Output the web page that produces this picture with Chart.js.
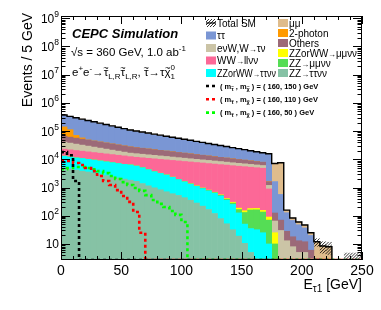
<!DOCTYPE html>
<html><head><meta charset="utf-8">
<script src="https://cdn.jsdelivr.net/npm/chart.js@4.4.1/dist/chart.umd.min.js"></script>
<style>html,body{margin:0;padding:0;background:#fff}canvas{display:block}</style>
</head><body>
<canvas id="c" width="381" height="310"></canvas>
<script>
// ---------------- data (events / 5 GeV), 50 bins from 0 to 250 GeV ----------------
const binLow = Array.from({length: 50}, (_, i) => 5 * i);          // bin lower edges
const binCenters = binLow.map(v => v + 2.5);
const xTickLabels = [0, 50, 100, 150, 200, 250];
const yTickExponents = [1, 2, 3, 4, 5, 6, 7, 8, 9];

// backgrounds, stacking order bottom -> top
const ZZ_tautaununu = [5000,4570,4170,3800,3550,3240,2880,2630,2400,2190,1995,1820,1660,1380,1150,977,832,708,603,525,437,355,282,219,166,120,79,52,32,19,10.5,5,0,0,0,0,0,0,0,0,0,0,0,0,0,0,0,0,0,0];
const ZZorWW_tautaununu = [7900,7450,7050,6900,6450,6100,5830,5500,5190,4890,4610,4490,4090,3630,3120,2650,2330,2050,1690,1380,1150,963,814,693,593,511,422,303,219,107,40,30,32,25,10,0,0,0,0,0,0,0,0,0,0,0,0,0,0,0];
const ZZ_mumununu = [30,30,30,30,30,30,30,30,30,30,30,30,30,30,30,30,30,30,30,30,30,30,30,30,30,30,30,30,30,40,80,125,130,110,60,10,0,0,0,0,0,0,0,0,0,0,0,0,0,0];
const ZZorWW_mumununu = [20,20,20,20,20,20,20,20,20,20,20,20,20,20,20,20,20,20,20,20,20,20,20,20,20,20,20,20,20,20,20,20,20,20,20,15,0,0,0,0,0,0,0,0,0,0,0,0,0,0];
const WW_lnulnu = [9980,9600,9240,8640,8320,8000,7680,7380,7090,6800,6530,6110,6000,6250,6520,6710,6740,6740,6800,6800,6760,6680,6560,6430,6270,6100,5950,5830,5640,5500,5330,5070,4850,4670,800,0,0,0,0,0,0,0,0,0,0,0,0,0,0,0];
const enuW = [17830,15870,14080,12470,11010,9690,8500,7430,6460,5590,4810,4120,4050,3830,3620,3420,3230,3050,2880,2720,2570,2430,2290,2160,2040,1930,1820,1710,1620,1520,1440,1350,1280,1200,300,40,30,13,8,5,5,3,1,0,0,0,0,0,0,0];
const others = [25330,23490,21770,20180,18710,17340,16070,14890,13810,12800,11870,10950,10150,9440,8760,8120,7530,6970,6460,5980,5520,5100,4710,4350,4010,3690,3400,3120,2860,2630,2400,2200,2010,1830,400,60,40,15,10,8,7,3,2,0,0,0,0,0,0,0];
const twoPhoton = [75000,51000,14000,5500,400,300,250,200,180,160,150,140,130,120,110,100,90,80,75,70,65,60,55,50,45,40,40,35,35,30,30,25,25,20,20,0,0,0,0,0,0,0,0,0,0,0,0,0,0,0];
const tautau = [211700,203680,211900,195460,177940,157930,140080,124210,110080,97510,86340,76480,69590,63280,57520,52260,47460,43100,39100,35460,32140,29110,26350,23830,21550,19470,17570,15850,14280,12860,11560,10390,9320,8360,13300,1500,500,100,50,35,25,14,0,0,0,0,0,0,0,0];
const mumu = [18580,16630,14880,13320,11920,10670,9540,8540,7640,6840,6120,5480,5040,4630,4250,3910,3590,3300,3030,2790,2560,2350,2160,1990,1830,1680,1540,1420,1300,1200,1100,1010,930,850,790,5500,7000,30,15,12,10,5,9,8.5,8,0,0,0,0,0];
// statistical uncertainty of the total SM (hatched band), visible only in the tail
const totalSMErr = [0,0,0,0,0,0,0,0,0,0,0,0,0,0,0,0,0,0,0,0,0,0,0,0,0,0,0,0,0,0,0,0,0,0,0,0,0,0,0,0,0,0,4,4,4,0,0,5,5,5];

// signals
const sig_160_150 = [18000,14000,1700,0,0,0,0,0,0,0,0,0,0,0,0,0,0,0,0,0,0,0,0,0,0,0,0,0,0,0,0,0,0,0,0,0,0,0,0,0,0,0,0,0,0,0,0,0,0,0];
const sig_160_110 = [8700,8700,7400,6300,4900,3800,2550,1700,1230,810,500,310,135,25,0,0,0,0,0,0,0,0,0,0,0,0,0,0,0,0,0,0,0,0,0,0,0,0,0,0,0,0,0,0,0,0,0,0,0,0];
const sig_160_50 = [4470,4900,5350,5350,4900,4470,3800,3240,2570,2000,1550,1230,960,760,540,360,263,205,148,107,60,0,0,0,0,0,0,0,0,0,0,0,0,0,0,0,0,0,0,0,0,0,0,0,0,0,0,0,0,0];

const bkgSeries = [
  {label: 'ZZ→ττνν',      vals: ZZ_tautaununu,     color: '#86c2a5'},
  {label: 'ZZorWW→ττνν',  vals: ZZorWW_tautaununu, color: '#00ffff'},
  {label: 'ZZ→μμνν',      vals: ZZ_mumununu,       color: '#55dd55'},
  {label: 'ZZorWW→μμνν',  vals: ZZorWW_mumununu,   color: '#ffff00'},
  {label: 'WW→llνν',      vals: WW_lnulnu,         color: '#fc6897'},
  {label: 'eνW,W→τν',     vals: enuW,              color: '#cbc4a6'},
  {label: 'Others',       vals: others,            color: '#9c6a78'},
  {label: '2-photon',     vals: twoPhoton,         color: '#ff9a00'},
  {label: 'ττ',           vals: tautau,            color: '#7a96d4'},
  {label: 'μμ',           vals: mumu,              color: '#dfbc8c'}
];
const sigSeries = [
  {key: '(160, 150)', vals: sig_160_150, color: '#000000'},
  {key: '(160, 110)', vals: sig_160_110, color: '#ff0000'},
  {key: '(160, 50)',  vals: sig_160_50,  color: '#00ff00'}
];

const Y_MIN = 2.7, Y_MAX = 1.2e9, X_MIN = 0, X_MAX = 250;
const FONT = '"Liberation Sans", Arial, Helvetica, sans-serif';

const totalSM = binLow.map((_, i) => bkgSeries.reduce((s, b) => s + b.vals[i], 0));

function stepPoints(vals) {
  const pts = vals.map((v, i) => ({x: binLow[i], y: v > Y_MIN ? v : Y_MIN}));
  pts.push({x: X_MAX, y: pts[pts.length - 1].y});
  return pts;
}

const datasets = [];
sigSeries.forEach(s => datasets.push({
  type: 'line', label: s.key, data: stepPoints(s.vals), yAxisID: 'y2',
  borderColor: s.color, borderWidth: 2.6, borderDash: [3, 3], stepped: 'before',
  pointRadius: 0, fill: false, order: 0, borderCapStyle: 'butt'
}));
datasets.push({
  type: 'line', label: 'Total SM', data: stepPoints(totalSM), yAxisID: 'y2',
  borderColor: '#000', borderWidth: 1.4, stepped: 'before', pointRadius: 0, fill: false, order: 1
});
bkgSeries.forEach(b => datasets.push({
  type: 'bar', label: b.label, data: b.vals.map((v, i) => ({x: binCenters[i], y: v})),
  backgroundColor: b.color, borderWidth: 0, barPercentage: 1, categoryPercentage: 1,
  stack: 'bkg', yAxisID: 'y', order: 2
}));

// ---------- text helpers ----------
function font(size, bold, italic) {
  return `${italic ? 'italic ' : ''}${bold ? 'bold ' : ''}${size}px ${FONT}`;
}
// parts: {t, s, dy, b, i, tilde, noadv}
function rich(ctx, x, y, parts, base, measureOnly, maxWidth) {
  if (!measureOnly && maxWidth) {
    const w = rich(ctx, 0, 0, parts, base, true);
    if (w > maxWidth) {
      ctx.save(); ctx.translate(x, 0); ctx.scale(maxWidth / w, 1);
      rich(ctx, 0, y, parts, base);
      ctx.restore();
      return maxWidth;
    }
  }
  let x0 = x;
  for (const p of parts) {
    const size = p.s || base;
    ctx.font = font(size, p.b, p.i);
    const tw = ctx.measureText(p.t).width;
    if (!measureOnly) {
      ctx.fillText(p.t, x, y + (p.dy || 0));
      if (p.tilde) {
        const ts = size * 0.8;
        ctx.font = font(ts, p.b, false);
        const w2 = ctx.measureText('~').width;
        ctx.fillText('~', x + tw / 2 - w2 / 2, y + (p.dy || 0) - size * 0.42);
      }
    }
    if (!p.noadv) x += tw;
  }
  return x - x0;
}
// split a label so that arrows are drawn a bit smaller (as ROOT does)
function labelParts(label, size) {
  const out = [];
  label.split('→').forEach((seg, k) => {
    if (k > 0) out.push({t: '→', s: size * 0.8});
    if (seg) out.push({t: seg, s: size});
  });
  return out;
}

function hatchRect(ctx, x0, y0, x1, y1) {
  ctx.save();
  ctx.beginPath(); ctx.rect(x0, y0, x1 - x0, y1 - y0); ctx.clip();
  ctx.beginPath(); ctx.lineWidth = 0.8; ctx.strokeStyle = '#000';
  for (let d = x0 - (y1 - y0); d < x1; d += 3) { ctx.moveTo(d, y1); ctx.lineTo(d + (y1 - y0), y0); }
  ctx.stroke(); ctx.restore();
}

const rootPlugin = {
  id: 'rootStyle',
  afterDatasetsDraw(chart) {
    const {ctx, chartArea: a, scales} = chart;
    const xs = scales.x, ys = scales.y;
    ctx.save();
    // hatched uncertainty band of the total SM
    ctx.save();
    ctx.beginPath(); ctx.rect(a.left, a.top, a.right - a.left, a.bottom - a.top); ctx.clip();
    totalSMErr.forEach((e, i) => {
      if (!(e > 0)) return;
      const lo = totalSM[i] - e, hi = totalSM[i] + e;
      const yTop = ys.getPixelForValue(hi);
      const yBot = lo > Y_MIN ? ys.getPixelForValue(lo) : a.bottom;
      hatchRect(ctx, xs.getPixelForValue(binLow[i]), yTop, xs.getPixelForValue(binLow[i] + 5), yBot);
    });
    ctx.restore();

    ctx.strokeStyle = '#000';
    ctx.lineWidth = 1;
    // frame
    ctx.strokeRect(a.left + 0.5, a.top + 0.5, a.right - a.left - 1, a.bottom - a.top - 1);
    // y ticks (log): both sides
    ctx.beginPath();
    for (let e = 0; e <= 9; e++) {
      for (let m = 1; m <= 9; m++) {
        const v = m * Math.pow(10, e);
        if (v < Y_MIN || v > Y_MAX) continue;
        const py = Math.round(ys.getPixelForValue(v)) + 0.5;
        const len = m === 1 ? 9 : 4.5;
        ctx.moveTo(a.left, py); ctx.lineTo(a.left + len, py);
        ctx.moveTo(a.right, py); ctx.lineTo(a.right - len, py);
      }
    }
    // x ticks: bottom and top
    for (let v = X_MIN; v <= X_MAX; v += 10) {
      const px = Math.round(xs.getPixelForValue(v)) + 0.5;
      const len = v % 50 === 0 ? 8 : 4;
      ctx.moveTo(px, a.bottom); ctx.lineTo(px, a.bottom - len);
      ctx.moveTo(px, a.top); ctx.lineTo(px, a.top + len);
    }
    ctx.stroke();

    ctx.fillStyle = '#000';
    // y tick labels
    ctx.textBaseline = 'alphabetic';
    for (const e of yTickExponents) {
      const v = Math.pow(10, e);
      const py = ys.getPixelForValue(v);
      const right = a.left - 2;
      if (e === 1) {
        ctx.font = font(12); ctx.textAlign = 'right';
        ctx.fillText('10', right, py + 4.5);
      } else {
        ctx.font = font(8.5); ctx.textAlign = 'right';
        const sw = ctx.measureText(String(e)).width;
        ctx.fillText(String(e), right, py - 1.5);
        ctx.font = font(12);
        ctx.fillText('10', right - sw, py + 4.5);
      }
    }
    // x tick labels
    ctx.font = font(14); ctx.textAlign = 'center';
    for (const v of xTickLabels) ctx.fillText(String(v), xs.getPixelForValue(v), a.bottom + 15);

    // axis titles
    ctx.textAlign = 'left';
    const xt = [{t: 'E', s: 14}, {t: 'τ1', s: 10, dy: 3}, {t: ' [GeV]', s: 14}];
    const w = rich(ctx, 0, 0, xt, 14, true);
    rich(ctx, a.right - w, 289, xt, 14);
    ctx.save();
    ctx.translate(32, a.top - 3);
    ctx.rotate(-Math.PI / 2);
    ctx.font = font(14); ctx.textAlign = 'right';
    ctx.fillText('Events / 5 GeV', 0, 0);
    ctx.restore();

    // labels inside the frame
    ctx.textAlign = 'left';
    ctx.font = font(13, true, true);
    ctx.fillText('CEPC Simulation', 72, 38);
    rich(ctx, 71, 56, [{t: '√s = 360 GeV, 1.0 ab', s: 11.5}, {t: '-1', s: 8, dy: -5}], 11.5);
    rich(ctx, 72, 76, [
      {t: 'e'}, {t: '+', s: 8, dy: -5}, {t: 'e'}, {t: '-', s: 8, dy: -5}, {t: '→'},
      {t: 'τ', tilde: true}, {t: 'L,R', s: 8, dy: 3}, {t: 'τ', tilde: true}, {t: 'L,R', s: 8, dy: 3},
      {t: ', '}, {t: 'τ', tilde: true}, {t: '→'}, {t: 'τ'}, {t: 'χ', tilde: true},
      {t: '0', s: 8, dy: -6, noadv: true}, {t: '1', s: 8, dy: 3}
    ], 11.5);

    // legend: backgrounds (two legends of equal height)
    const col1 = [{label: 'Total SM', total: true}, {label: 'ττ', c: '#7a96d4'}, {label: 'eνW,W→τν', c: '#cbc4a6'},
                  {label: 'WW→llνν', c: '#fc6897'}, {label: 'ZZorWW→ττνν', c: '#00ffff'}];
    const col2 = [{label: 'μμ', c: '#dfbc8c'}, {label: '2-photon', c: '#ff9a00'}, {label: 'Others', c: '#9c6a78'},
                  {label: 'ZZorWW→μμνν', c: '#ffff00'}, {label: 'ZZ→μμνν', c: '#55dd55'}, {label: 'ZZ→ττνν', c: '#86c2a5'}];
    const drawCol = (items, bx, y0, y1, maxW) => {
      const step = (y1 - y0) / (items.length - 1);
      items.forEach((it, k) => {
        const cy = y0 + k * step;
        if (it.total) {
          hatchRect(ctx, bx, cy - 4, bx + 10, cy + 4);
          ctx.beginPath(); ctx.lineWidth = 1.2; ctx.strokeStyle = '#000'; ctx.moveTo(bx, cy); ctx.lineTo(bx + 10, cy); ctx.stroke();
        } else {
          ctx.fillStyle = it.c; ctx.fillRect(bx, cy - 4, 10, 8);
        }
        ctx.fillStyle = '#000'; ctx.textAlign = 'left';
        rich(ctx, bx + 11, cy + 3.6, labelParts(it.label, 10), 10, false, maxW);
      });
    };
    drawCol(col1, 206, 23, 73, 59);
    drawCol(col2, 278, 23, 73, 68);

    // legend: signals
    sigSeries.forEach((s, k) => {
      const cy = 86 + k * 13.3;
      ctx.strokeStyle = s.color; ctx.lineWidth = 2.6; ctx.setLineDash([3, 3]);
      ctx.beginPath(); ctx.moveTo(206, cy); ctx.lineTo(217, cy); ctx.stroke();
      ctx.setLineDash([]);
      ctx.fillStyle = '#000';
      rich(ctx, 220, cy + 2.8, [
        {t: '( m', b: true}, {t: 'τ', s: 5.5, dy: 2, b: true, tilde: true}, {t: ' , m', b: true},
        {t: 'χ', s: 5.5, dy: 2, b: true, tilde: true}, {t: ' ) = ' + s.key.replace('(', '( ').replace(')', ' )') + ' GeV', b: true}
      ], 7.5);
    });
    ctx.restore();
  }
};

new Chart(document.getElementById('c'), {
  type: 'bar',
  data: {datasets},
  options: {
    responsive: false, animation: false, devicePixelRatio: 1,
    layout: {padding: {left: 61, right: 19, top: 16, bottom: 50}},
    plugins: {legend: {display: false}, tooltip: {enabled: false}, title: {display: false}},
    scales: {
      x: {type: 'linear', min: X_MIN, max: X_MAX, offset: false, stacked: true, display: false},
      y: {type: 'logarithmic', min: Y_MIN, max: Y_MAX, stacked: true, display: false},
      y2: {type: 'logarithmic', min: Y_MIN, max: Y_MAX, display: false}
    }
  },
  plugins: [rootPlugin]
});
</script>
</body></html>
